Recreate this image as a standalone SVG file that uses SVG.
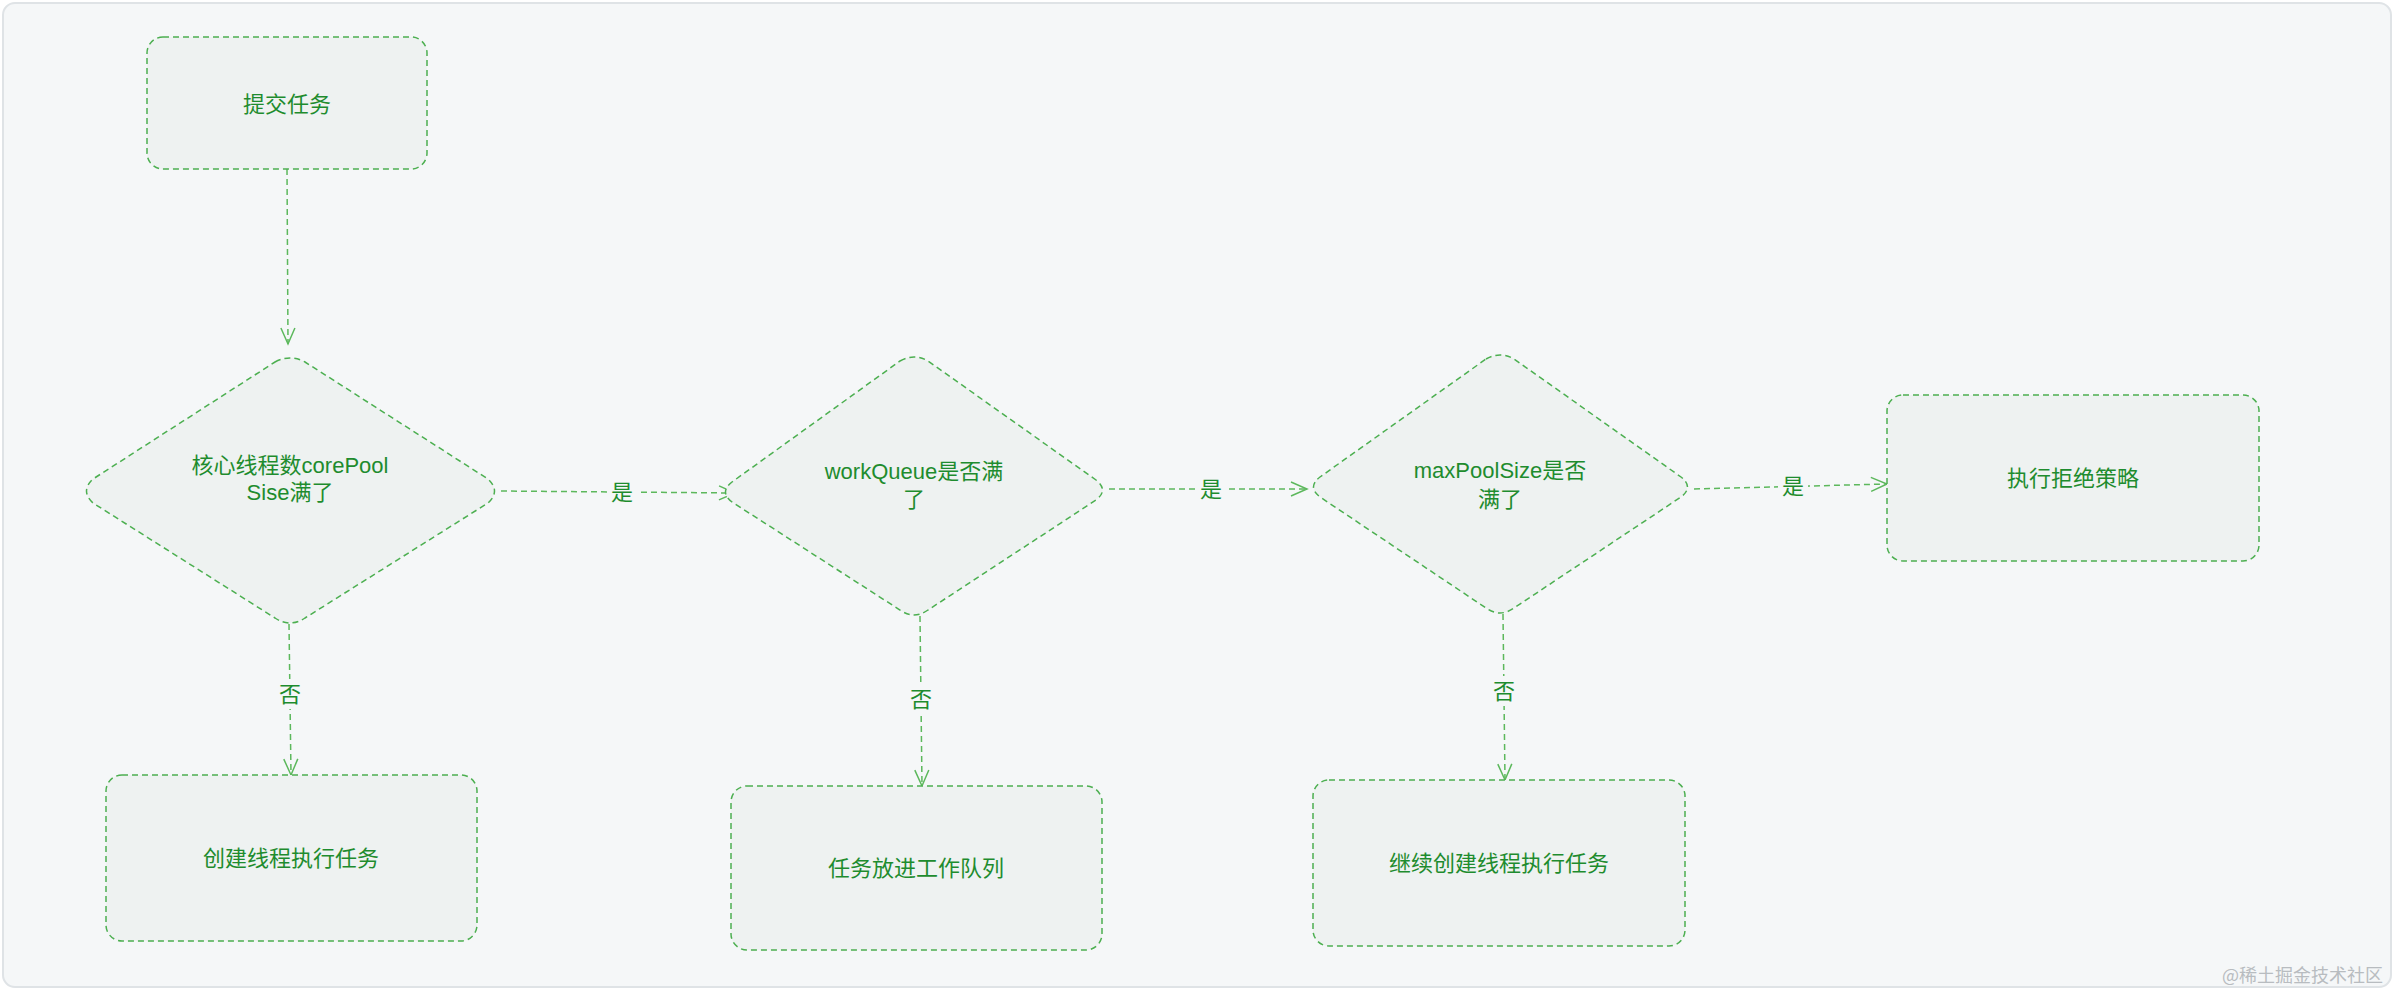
<svg xmlns="http://www.w3.org/2000/svg" width="2394" height="990" viewBox="0 0 2394 990">
<defs>
<marker id="arr" viewBox="0 0 20 20" refX="18" refY="10" markerWidth="20" markerHeight="20" markerUnits="userSpaceOnUse" orient="auto">
<path d="M2,3 L18,10 L2,17" fill="none" stroke="#5cb85c" stroke-width="1.5"/>
</marker>
<style>
.n{fill:#eef2f1;stroke:#4caf50;stroke-width:1.5;stroke-dasharray:6 4}
.t{font-family:"Liberation Sans","Noto Sans CJK SC",sans-serif;font-size:22px;fill:#1e8c2e;text-anchor:middle}
.c{fill:none;stroke:#5cb85c;stroke-width:1.5;stroke-dasharray:6 4}
.lb{fill:#f5f7f8}
</style>
</defs>
<rect x="3" y="3" width="2388" height="984" rx="12" fill="#f5f7f8" stroke="#dfe3e6" stroke-width="2"/>
<g id="connectors">
<path class="c" d="M287,169 L288,344" marker-end="url(#arr)"/>
<path class="c" d="M501,491 L735,493" marker-end="url(#arr)"/>
<path class="c" d="M1109,489 L1307,489" marker-end="url(#arr)"/>
<path class="c" d="M1694,489 L1887,484" marker-end="url(#arr)"/>
<path class="c" d="M289,624 L291,775" marker-end="url(#arr)"/>
<path class="c" d="M920,616 L922,786" marker-end="url(#arr)"/>
<path class="c" d="M1503,614 L1505,780" marker-end="url(#arr)"/>
<rect class="lb" x="607" y="476" width="30" height="30"/>
<text class="t" x="622" y="500">是</text>
<rect class="lb" x="1196" y="474" width="30" height="30"/>
<text class="t" x="1211" y="497">是</text>
<rect class="lb" x="1778" y="471" width="30" height="30"/>
<text class="t" x="1793" y="494">是</text>
<rect class="lb" x="275" y="679" width="30" height="30"/>
<text class="t" x="290" y="702">否</text>
<rect class="lb" x="906" y="684" width="30" height="30"/>
<text class="t" x="921" y="707">否</text>
<rect class="lb" x="1489" y="676" width="30" height="30"/>
<text class="t" x="1504" y="699">否</text>
</g>
<g id="submit">
<rect class="n" x="147" y="37" width="280" height="132" rx="16"/>
<text class="t" x="287" y="112">提交任务</text>
</g>
<g id="d1">
<path class="n" d="M275,362 Q290,354 305,362 L488,479 Q501,491 488,503 L305,618 Q290,628 275,618 L93,503 Q80,491 93,479 Z"/>
<text class="t" x="290" y="473">核心线程数corePool</text>
<text class="t" x="290" y="500">Sise满了</text>
</g>
<g id="create">
<rect class="n" x="106" y="775" width="371" height="166" rx="16"/>
<text class="t" x="291" y="866">创建线程执行任务</text>
</g>
<g id="d2">
<path class="n" d="M900,361 Q914,353 928,361 L1096,480 Q1109,490 1096,500 L928,610 Q914,620 900,610 L732,502 Q719,492 732,482 Z"/>
<text class="t" x="914" y="479">workQueue是否满</text>
<text class="t" x="914" y="507">了</text>
</g>
<g id="queue">
<rect class="n" x="731" y="786" width="371" height="164" rx="16"/>
<text class="t" x="916" y="876">任务放进工作队列</text>
</g>
<g id="d3">
<path class="n" d="M1486,359 Q1500,351 1514,359 L1681,477 Q1694,487 1681,497 L1514,608 Q1500,618 1486,608 L1320,497 Q1307,487 1320,477 Z"/>
<text class="t" x="1500" y="478">maxPoolSize是否</text>
<text class="t" x="1500" y="507">满了</text>
</g>
<g id="reject">
<rect class="n" x="1887" y="395" width="372" height="166" rx="16"/>
<text class="t" x="2073" y="486">执行拒绝策略</text>
</g>
<g id="cont">
<rect class="n" x="1313" y="780" width="372" height="166" rx="16"/>
<text class="t" x="1499" y="871">继续创建线程执行任务</text>
</g>
<text x="2383" y="982" font-family="'Noto Sans CJK SC',sans-serif" font-size="18" fill="#b8bcc0" text-anchor="end">@稀土掘金技术社区</text>
</svg>
